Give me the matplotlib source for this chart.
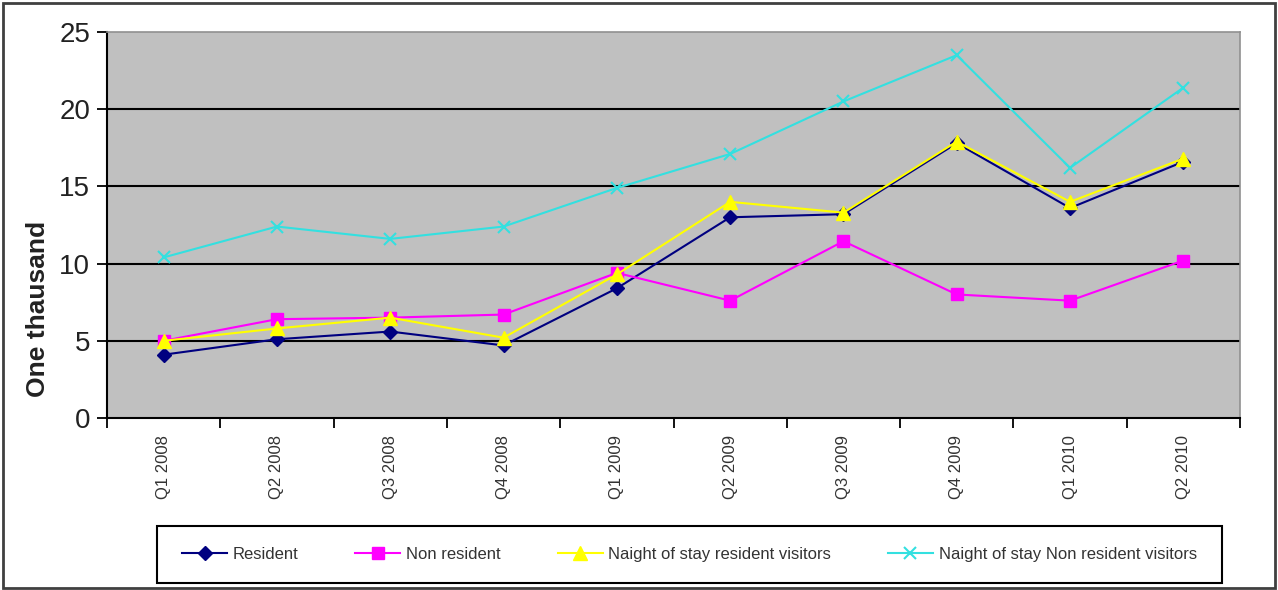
import numpy as np
import matplotlib.pyplot as plt
from matplotlib.patches import Rectangle

plt.rcParams['font.family'] = ['Liberation Sans', 'DejaVu Sans']

quarters = ['Q1 2008', 'Q2 2008', 'Q3 2008', 'Q4 2008', 'Q1 2009',
            'Q2 2009', 'Q3 2009', 'Q4 2009', 'Q1 2010', 'Q2 2010']
resident = [4.1, 5.1, 5.6, 4.7, 8.4, 13.0, 13.2, 17.8, 13.6, 16.6]
non_resident = [5.0, 6.4, 6.5, 6.7, 9.4, 7.6, 11.45, 8.0, 7.6, 10.2]
night_resident = [5.0, 5.8, 6.5, 5.2, 9.3, 14.0, 13.3, 17.9, 14.0, 16.8]
night_non_resident = [10.4, 12.4, 11.6, 12.4, 14.9, 17.1, 20.5, 23.5, 16.2, 21.4]

W, H = 1278, 590
fig = plt.figure(figsize=(W / 100, H / 100), dpi=100)
ax = fig.add_axes([107/W, 1-418/H, (1240-107)/W, (418-32)/H])
ax.set_facecolor('#c0c0c0')

x = np.arange(len(quarters))
ax.plot(x, resident, color='#000080', marker='D', markersize=7, lw=1.5, label='Resident')
ax.plot(x, non_resident, color='#ff00ff', marker='s', markersize=9, lw=1.5, label='Non resident')
ax.plot(x, night_resident, color='#ffff00', marker='^', markersize=10, lw=1.5,
        label='Naight of stay resident visitors')
ax.plot(x, night_non_resident, color='#33e0e0', marker='x', markersize=9, mew=1.5, lw=1.5,
        label='Naight of stay Non resident visitors')

ax.set_xlim(-0.5, len(quarters) - 0.5)
ax.set_ylim(0, 25)
ax.set_yticks([0, 5, 10, 15, 20, 25])
for v in [5, 10, 15, 20]:
    ax.axhline(v, color='black', lw=1.5, zorder=1)

# category labels centred, ticks between categories
ax.set_xticks(x)
ax.set_xticklabels(quarters, rotation=90, fontsize=12, color='#333333')
ax.tick_params(axis='x', which='major', length=0, pad=12)
ax.set_xticks(np.arange(-0.5, len(quarters)), minor=True)
ax.tick_params(axis='x', which='minor', length=7, width=1.3, direction='out')
ax.tick_params(axis='y', length=7, width=1.3, direction='out', labelsize=20, pad=5,
               labelcolor='#222222')

for side in ['top', 'right']:
    ax.spines[side].set_color('#909090')
    ax.spines[side].set_linewidth(1.2)
for side in ['left', 'bottom']:
    ax.spines[side].set_color('black')
    ax.spines[side].set_linewidth(1.5)

ax.set_ylabel('One thausand', fontsize=19, fontweight='bold', color='#222222')
ax.yaxis.set_label_coords(-0.05, 0.282)

# legend box below the plot
fig.patches.append(Rectangle((157/W, 1-583/H), (1222-157)/W, 57/H, transform=fig.transFigure,
                             fill=False, edgecolor='black', lw=1.5))
leg = fig.legend(loc='center', bbox_to_anchor=((157+1222)/2/W, 1-554.5/H),
                 ncol=4, fontsize=12, frameon=False, handlelength=2.7,
                 handletextpad=0.35, columnspacing=3.4)
for t in leg.get_texts():
    t.set_color('#333333')

fig.patches.append(Rectangle((3/W, 2/H), 1272/W, 585/H, transform=fig.transFigure,
                             fill=False, edgecolor='#404040', lw=2))

fig.savefig('out.png', dpi=100)
